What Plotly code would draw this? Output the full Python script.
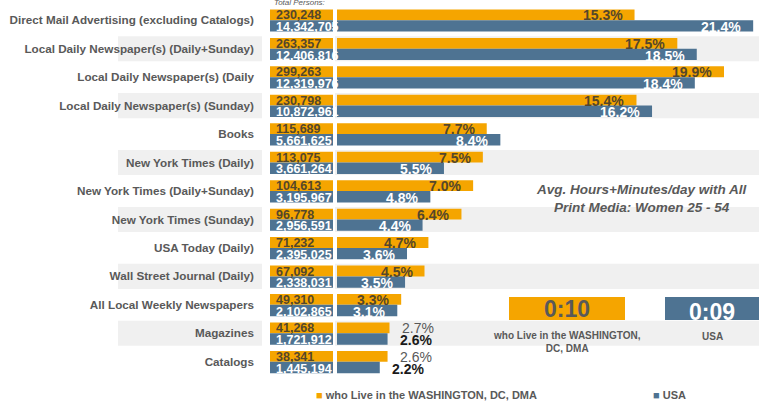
import plotly.graph_objects as go

categories = [
    "Direct Mail Advertising (excluding Catalogs)",
    "Local Daily Newspaper(s) (Daily+Sunday)",
    "Local Daily Newspaper(s) (Daily",
    "Local Daily Newspaper(s) (Sunday)",
    "Books",
    "New York Times (Daily)",
    "New York Times (Daily+Sunday)",
    "New York Times (Sunday)",
    "USA Today (Daily)",
    "Wall Street Journal (Daily)",
    "All Local Weekly Newspapers",
    "Magazines",
    "Catalogs",
]
wash_pct = [15.3, 17.5, 19.9, 15.4, 7.7, 7.5, 7.0, 6.4, 4.7, 4.5, 3.3, 2.7, 2.6]
usa_pct = [21.4, 18.5, 18.4, 16.2, 8.4, 5.5, 4.8, 4.4, 3.6, 3.5, 3.1, 2.6, 2.2]
wash_total = [230248, 263357, 299263, 230798, 115689, 113075, 104613, 96778,
              71232, 67092, 49310, 41268, 38341]
usa_total = [14342705, 12406816, 12319976, 10872961, 5661625, 3661264, 3195967,
             2956591, 2395025, 2338031, 2102865, 1721912, 1445194]
wash_name = "who Live in the WASHINGTON, DC, DMA"
usa_name = "USA"
wash_kpi = "0:10"
usa_kpi = "0:09"
kpi_title = "Avg. Hours+Minutes/day with All<br>Print Media: Women 25 - 54"

ORANGE = "#F5A500"
BLUE = "#4E7392"
GRAY = "#595959"
DARK = "#55472A"
BAND = "#F0F0F0"
FONT = "Liberation Sans"

W, H = 759, 404
MT, MB = 6, 28
PH = H - MT - MB


def px(p):
    return p / W


def py(p):
    return (H - MB - p) / PH


rows = list(range(len(categories)))
fig = go.Figure()

# percentage bars
fig.add_trace(go.Bar(x=wash_pct, y=rows, orientation="h", offset=-0.38, width=0.38,
                     marker=dict(color=ORANGE, line=dict(width=0)), name=wash_name,
                     showlegend=False, hoverinfo="skip"))
fig.add_trace(go.Bar(x=usa_pct, y=rows, orientation="h", offset=0.0, width=0.40,
                     marker=dict(color=BLUE, line=dict(width=0)), name=usa_name,
                     showlegend=False, hoverinfo="skip"))
# totals column cells
fig.add_trace(go.Bar(x=[1] * len(rows), y=rows, orientation="h", offset=-0.38, width=0.38,
                     marker=dict(color=ORANGE, line=dict(width=0)), xaxis="x2",
                     showlegend=False, hoverinfo="skip"))
fig.add_trace(go.Bar(x=[1] * len(rows), y=rows, orientation="h", offset=0.0, width=0.40,
                     marker=dict(color=BLUE, line=dict(width=0)), xaxis="x2",
                     showlegend=False, hoverinfo="skip"))

annotations = []
n = len(rows)
for i in rows:
    # totals text
    annotations.append(dict(x=0, y=i - 0.17, xref="x2", yref="y", xanchor="left",
                            yanchor="middle", xshift=4, showarrow=False,
                            text=f"{wash_total[i]:,}",
                            font=dict(family=FONT, size=12.5, color=DARK, weight="bold")))
    annotations.append(dict(x=0, y=i + 0.24, xref="x2", yref="y", xanchor="left",
                            yanchor="middle", xshift=4, showarrow=False,
                            text=f"{usa_total[i]:,}",
                            font=dict(family=FONT, size=12.5, color="white", weight="bold")))
    outside = i >= n - 2
    annotations.append(dict(x=wash_pct[i], y=i - 0.17, xref="x", yref="y",
                            xanchor="left" if outside else "right", yanchor="middle",
                            xshift=10 if outside else -10, showarrow=False,
                            text=f"{wash_pct[i]:.1f}%",
                            font=dict(family=FONT, size=14,
                                      color=GRAY if outside else DARK,
                                      weight="normal" if outside else "bold")))
    annotations.append(dict(x=usa_pct[i], y=i + 0.24, xref="x", yref="y",
                            xanchor="left" if outside else "right", yanchor="middle",
                            xshift=10 if outside else -10, showarrow=False,
                            text=f"{usa_pct[i]:.1f}%",
                            font=dict(family=FONT, size=14,
                                      color="#1A1A1A" if outside else "white",
                                      weight="bold")))

shapes = []
for i in rows:
    if i % 2 == 1:
        for a, b in [(118, 262), (335, 759)]:
            shapes.append(dict(type="rect", xref="paper", yref="y", x0=px(a), x1=px(b),
                               y0=i - 0.44, y1=i + 0.44, fillcolor=BAND,
                               line=dict(width=0), layer="below"))

# KPI tiles
shapes.append(dict(type="rect", xref="paper", yref="paper", x0=px(509), x1=px(625),
                   y0=py(320), y1=py(297), fillcolor=ORANGE, line=dict(width=0)))
shapes.append(dict(type="rect", xref="paper", yref="paper", x0=px(665), x1=px(759),
                   y0=py(320), y1=py(297), fillcolor=BLUE, line=dict(width=0)))
annotations += [
    dict(x=px(567), y=py(308.5), xref="paper", yref="paper", text=wash_kpi, showarrow=False,
         xanchor="center", yanchor="middle",
         font=dict(family=FONT, size=23, color=GRAY, weight="bold")),
    dict(x=px(712), y=py(312), xref="paper", yref="paper", text=usa_kpi, showarrow=False,
         xanchor="center", yanchor="middle",
         font=dict(family=FONT, size=23, color="white", weight="bold")),
    dict(x=px(567), y=py(342), xref="paper", yref="paper",
         text="who Live in the WASHINGTON,<br>DC, DMA", showarrow=False,
         xanchor="center", yanchor="middle",
         font=dict(family=FONT, size=10, color=GRAY, weight="bold")),
    dict(x=px(712), y=py(336), xref="paper", yref="paper", text=usa_name, showarrow=False,
         xanchor="center", yanchor="middle",
         font=dict(family=FONT, size=10, color=GRAY, weight="bold")),
    dict(x=px(641), y=py(198), xref="paper", yref="paper", text=kpi_title, showarrow=False,
         xanchor="center", yanchor="middle",
         font=dict(family=FONT, size=13.5, color=GRAY, weight="bold", style="italic")),
    dict(x=px(272), y=py(2), xref="paper", yref="paper", text="Total Persons:",
         showarrow=False, xanchor="left", yanchor="middle",
         font=dict(family=FONT, size=8, color=GRAY, style="italic")),
    # legend
    dict(x=px(314), y=py(395), xref="paper", yref="paper",
         text=f"<span style='color:{ORANGE}'>■</span> {wash_name}", showarrow=False,
         xanchor="left", yanchor="middle",
         font=dict(family=FONT, size=11, color=GRAY, weight="bold")),
    dict(x=px(651), y=py(395), xref="paper", yref="paper",
         text=f"<span style='color:{BLUE}'>■</span> {usa_name}", showarrow=False,
         xanchor="left", yanchor="middle",
         font=dict(family=FONT, size=11, color=GRAY, weight="bold")),
]

fig.update_layout(
    width=W, height=H,
    margin=dict(l=0, r=0, t=MT, b=MB, pad=0),
    paper_bgcolor="white", plot_bgcolor="rgba(0,0,0,0)",
    barmode="overlay",
    showlegend=False,
    xaxis=dict(domain=[px(337), 1], range=[0, 21.7], visible=False, fixedrange=True),
    xaxis2=dict(domain=[px(270), px(333)], range=[0, 1], visible=False, fixedrange=True),
    yaxis=dict(anchor="x2", range=[n - 0.5, -0.5], tickmode="array", tickvals=rows,
               ticktext=categories, showgrid=False, zeroline=False, showline=False,
               ticks="", ticklabelstandoff=15,
               tickfont=dict(family=FONT, size=11.7, color=GRAY, weight="bold")),
    shapes=shapes,
    annotations=annotations,
)

fig.write_html("out.html", config={"displayModeBar": False},
               post_script="document.body.style.margin='0';document.body.style.padding='0';")
